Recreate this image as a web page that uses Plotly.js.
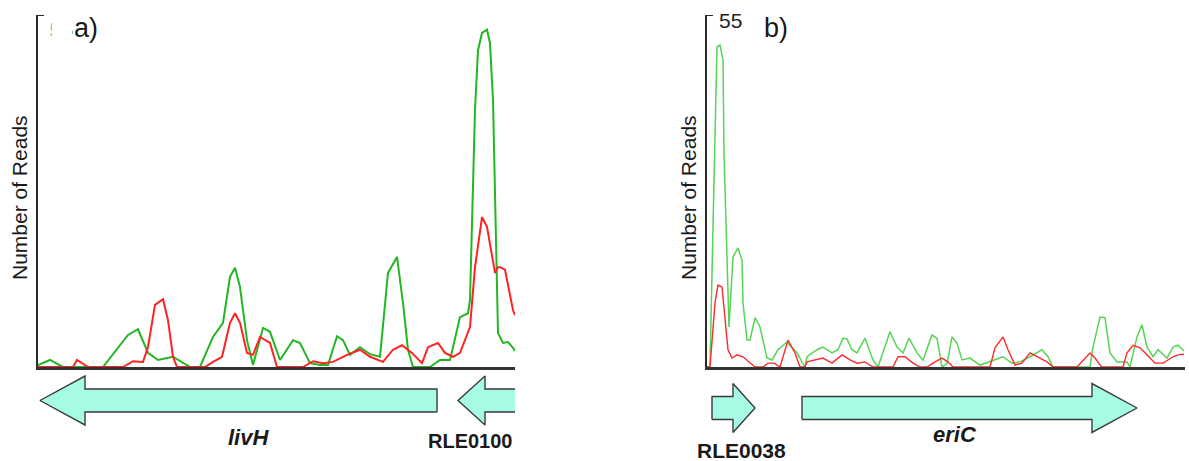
<!DOCTYPE html>
<html>
<head>
<meta charset="utf-8">
<script src="https://cdn.plot.ly/plotly-3.0.1.min.js"></script>
<style>html,body{margin:0;padding:0;background:#fff;}#chart{width:1189px;height:461px;}</style>
</head>
<body>
<div id="chart"></div>
<script>
// ---- Panel a) read counts (position along region, number of reads) ----
const posGreenA = [0,12,25,65,90,100,110,120,135,149,152,162,175,185,192,197,202,209,215,225,232,242,255,262,272,282,290,299,305,312,322,332,342,350,359,365,370,375,392,402,412,422,430,432,435,437,440,444,449,452,455,457,459,460,465,470,475,477];
const readsGreenA = [0.3,1.1,0,0,5.0,5.9,2.2,1.1,1.6,0.3,0,0,4.7,6.9,14.1,15.5,12.5,4.2,0.3,6.1,5.5,1.1,4.2,3.75,0.6,0.3,0.3,4.8,4.2,1.9,3.1,2.0,1.6,14.7,17.2,10.0,2.7,0,0,1.1,1.1,7.8,8.4,10.5,26.1,40.2,49.5,52.2,52.7,50.6,41.7,28.8,13.1,5.3,3.75,3.9,3.0,2.5];
const posRedA = [0,35,39,50,85,95,105,110,117,125,130,135,139,167,175,184,192,197,202,209,215,222,232,239,265,275,285,295,309,322,332,345,355,364,374,384,390,400,407,415,422,432,437,444,449,452,457,460,462,467,475,477];
const readsRedA = [0,0,1.1,0,0,0.9,0.8,3.1,9.7,10.6,7.3,1.6,0,0,0.8,1.6,6.9,8.4,6.9,2.2,1.9,4.7,3.75,0,0,0.9,0.6,0.8,1.9,2.7,1.6,0.8,2.7,3.4,2.2,0.6,3.1,3.75,2.2,1.6,2.2,6.25,15.6,23.4,21.9,19.4,14.7,15.6,15.6,15.2,8.9,8.1];

// ---- Panel b) read counts ----
const posGreenB = [0,3,6,10,13,16,17,20,22,26,31,35,36,40,43,48,53,60,65,71,80,90,98,100,110,116,120,125,131,136,140,145,150,158,166,171,183,190,196,202,210,216,225,230,235,240,245,250,255,263,273,278,286,296,305,313,323,335,341,346,383,386,393,398,403,410,420,423,430,435,440,446,451,460,466,471,477];
const readsGreenB = [0,0,21.9,50.0,50.3,48.0,33.4,15.2,6.25,17.2,18.6,16.7,10.0,4.2,4.2,7.7,6.25,1.4,1.1,2.7,3.9,2.2,0,1.6,2.7,3.1,2.7,2.2,2.7,4.5,4.4,2.7,2.2,4.5,1.1,0,5.5,3.1,2.2,4.5,2.2,1.1,5.0,4.5,0,0.5,4.7,3.75,1.1,1.4,0.3,0.6,1.1,1.6,0.6,0.8,1.6,2.7,1.6,0,0,3.1,7.8,7.7,2.2,0.8,0.8,0,4.7,6.6,3.1,1.6,2.7,1.4,3.1,3.4,2.5];
const posRedB = [0,3,8,11,15,18,21,25,30,36,43,48,56,61,67,73,81,88,93,98,100,108,116,125,135,143,150,158,166,186,191,198,206,213,220,226,235,241,246,283,288,296,301,308,315,323,331,340,346,370,383,388,393,395,416,420,426,433,440,448,456,466,471,477];
const readsRedB = [0,0,10.0,12.8,12.5,7.3,2.7,1.4,1.9,1.6,0.6,0,0,0.6,0.6,0,4.2,2.2,0,0,0.8,1.1,1.4,0.6,1.9,1.1,0.6,0.8,0,0,1.6,1.6,0.6,0,0,0.6,1.4,0.8,0,0,3.0,4.7,2.7,0.3,0.6,2.2,1.6,0.8,0,0,2.2,1.4,0.3,0,0,2.2,3.4,3.0,1.9,0.6,0.6,1.6,1.9,2.0];

// ---- Genes ----
const geneNames  = ['livH', 'RLE0100', 'RLE0038', 'eriC'];
const genePanel  = ['a', 'a', 'b', 'b'];
const geneStart  = [2, 420, 5, 95];
const geneEnd    = [399, 500, 48, 430];
const geneStrand = ['-', '-', '+', '+'];

// ---- Axis ticks ----
const yMax = 55;
const yTickVals = [55];
const yTickText = ['55'];
const yTitle = 'Number of Reads';
const panelLabels = ['a)', 'b)'];

// ---- styles ----
const headLen = [45, 27, 22, 45];
const headHalf = 0.89, bodyHalf = 0.42;
const FONT = 'Liberation Sans, Arial, sans-serif';
const W = 1189, H = 461;
const px = v => v / W, py = v => 1 - v / H;
const AXIS_A = 38, AXIS_B = 707;

function arrowPath(s, e, strand, h) {
  if (strand === '+') {
    return {x: [s, e - h, e - h, e, e - h, e - h, s, s],
            y: [-bodyHalf, -bodyHalf, -headHalf, 0, headHalf, bodyHalf, bodyHalf, -bodyHalf]};
  }
  return {x: [e, s + h, s + h, s, s + h, s + h, e, e],
          y: [-bodyHalf, -bodyHalf, -headHalf, 0, headHalf, bodyHalf, bodyHalf, -bodyHalf]};
}

const traces = [
  {x: posGreenA, y: readsGreenA, xaxis: 'x', yaxis: 'y', mode: 'lines', line: {color: '#22b622', width: 2}, hoverinfo: 'skip'},
  {x: posRedA, y: readsRedA, xaxis: 'x', yaxis: 'y', mode: 'lines', line: {color: '#ff2222', width: 2}, hoverinfo: 'skip'},
  {x: posGreenB, y: readsGreenB, xaxis: 'x2', yaxis: 'y2', mode: 'lines', line: {color: '#55d455', width: 1.5}, hoverinfo: 'skip'},
  {x: posRedB, y: readsRedB, xaxis: 'x2', yaxis: 'y2', mode: 'lines', line: {color: '#ff2a2a', width: 1.4}, hoverinfo: 'skip'}
];

geneNames.forEach((g, i) => {
  const p = arrowPath(geneStart[i], geneEnd[i], geneStrand[i], headLen[i]);
  traces.push({
    x: p.x, y: p.y, mode: 'lines', fill: 'toself',
    fillcolor: '#a6fbe4', line: {color: '#3a3a3a', width: 1.4},
    xaxis: genePanel[i] === 'a' ? 'x' : 'x2',
    yaxis: genePanel[i] === 'a' ? 'y3' : 'y4',
    hoverinfo: 'skip', name: g
  });
});

const yAxisCommon = {
  range: [0, yMax], showgrid: false, zeroline: false, showline: true,
  linecolor: '#2a2a2a', linewidth: 2, ticks: '', 
  tickvals: yTickVals, ticktext: yTickText, showticklabels: false,
  tickfont: {family: FONT, size: 21, color: '#222'}, fixedrange: true
};
const xAxisCommon = {
  showgrid: false, zeroline: false, showline: true, linecolor: '#333', linewidth: 2.5,
  ticks: '', showticklabels: false, fixedrange: true
};
const trackY = {range: [-1, 1], visible: false, showgrid: false, zeroline: false, fixedrange: true};

function ann(text, x, y, size, extra) {
  return Object.assign({text: text, xref: 'paper', yref: 'paper', x: x, y: y, xanchor: 'center', yanchor: 'middle',
    showarrow: false, font: {family: FONT, size: size, color: '#1a1a1a'}}, extra || {});
}

const layout = {
  width: W, height: H,
  margin: {l: 0, r: 0, t: 0, b: 0},
  paper_bgcolor: '#fff', plot_bgcolor: 'rgba(0,0,0,0)',
  showlegend: false,
  xaxis: Object.assign({}, xAxisCommon, {domain: [px(AXIS_A), px(515)], range: [0, 477], anchor: 'y'}),
  // panel a: tick label partly hidden (as in the reference figure)
  yaxis: Object.assign({}, yAxisCommon, {domain: [py(367), py(15)], anchor: 'x',
    showticklabels: true, ticklabelposition: 'inside bottom', ticklabelstandoff: 12}),
  xaxis2: Object.assign({}, xAxisCommon, {domain: [px(AXIS_B), px(1185)], range: [0, 478], anchor: 'y2'}),
  yaxis2: Object.assign({}, yAxisCommon, {domain: [py(367), py(15)], anchor: 'x2'}),
  yaxis3: Object.assign({}, trackY, {domain: [py(428), py(373)], anchor: 'x'}),
  yaxis4: Object.assign({}, trackY, {domain: [py(435.5), py(380.5)], anchor: 'x2'}),
  shapes: [
    {type: 'rect', xref: 'paper', yref: 'paper', x0: px(51.5), x1: px(72), y0: py(40), y1: py(2),
     fillcolor: '#fff', line: {width: 0}, layer: 'above'},
    {type: 'line', xref: 'paper', yref: 'y', x0: px(AXIS_A - 1), x1: px(AXIS_A + 6), y0: yMax, y1: yMax,
     line: {color: '#2a2a2a', width: 2}, layer: 'above'},
    {type: 'line', xref: 'paper', yref: 'y2', x0: px(AXIS_B - 1), x1: px(AXIS_B + 6), y0: yMax, y1: yMax,
     line: {color: '#2a2a2a', width: 2}, layer: 'above'}
  ],
  annotations: [
    ann(yTickText[0], px(717), py(21), 21, {xanchor: 'left', font: {family: FONT, size: 21, color: '#222'}}),
    ann(panelLabels[0], px(86), py(28), 27),
    ann(panelLabels[1], px(776), py(28), 27),
    ann(yTitle, px(20), py(198), 21, {textangle: -90}),
    ann(yTitle, px(689), py(198), 21, {textangle: -90}),
    ann('<b><i>' + geneNames[0] + '</i></b>', 210, py(437), 22, {xref: 'x'}),
    ann('<b>' + geneNames[1] + '</b>', 477, py(441), 20, {xref: 'x', xanchor: 'right'}),
    ann('<b>' + geneNames[2] + '</b>', 34, py(450), 21, {xref: 'x2'}),
    ann('<b><i>' + geneNames[3] + '</i></b>', 248, py(434), 22, {xref: 'x2'})
  ]
};

Plotly.newPlot('chart', traces, layout, {displayModeBar: false, staticPlot: true});
</script>
</body>
</html>
